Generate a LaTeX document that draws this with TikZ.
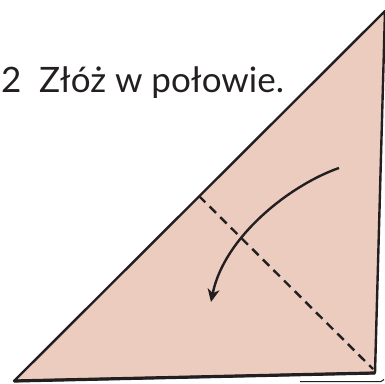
\documentclass[tikz,border=0pt]{standalone}
\usepackage{fontspec}
\setmainfont{Lato}
\usetikzlibrary{arrows.meta}
\definecolor{paper}{RGB}{235,204,190}
\definecolor{ink}{RGB}{35,31,32}
\tikzset{
    sheet/.style={fill=paper, draw=ink, line width=2.4pt, line join=round},
    foldline/.style={draw=ink, line width=2.4pt, dash pattern=on 9pt off 6pt},
    movearrow/.style={draw=ink, line width=2.4pt, -{Stealth[length=13pt,width=12pt,inset=4pt]}},
    steptext/.style={anchor=base west, inner sep=0pt, font=\fontsize{35}{40}\selectfont, text=ink}
}
\begin{document}
\begin{tikzpicture}[x=1pt,y=1pt]
        \useasboundingbox (0,0) rectangle (385,383);

        % Corners of the sheet
        \coordinate (bl) at (14,2);
        \coordinate (tr) at (385,372);
        \coordinate (br) at (375,10);

        % Draw the sheet
        \draw[sheet] (bl) -- (tr) -- (br) -- cycle;
        \draw[ink, line width=3.2pt] (bl) -- (br);
        \draw[ink, line width=1pt] (300,1.5) -- (381,1.5) -- (384,3.5);

        % Draw fold line
        \coordinate (fold start) at (199,187);
        \coordinate (fold end) at (373,14);
        \draw[foldline] (fold start) -- (fold end);

        % Draw fold arrow
        \coordinate (arrow start) at (339,215);
        \coordinate (arrow end) at (211,81);
        \draw[movearrow] (arrow start) .. controls (290,198) and (224,146) .. (arrow end);

        % Step caption
        \node[steptext] (caption) at (1,290) {2\hspace{0.5em}Złóż w połowie.};
\end{tikzpicture}
\end{document}
